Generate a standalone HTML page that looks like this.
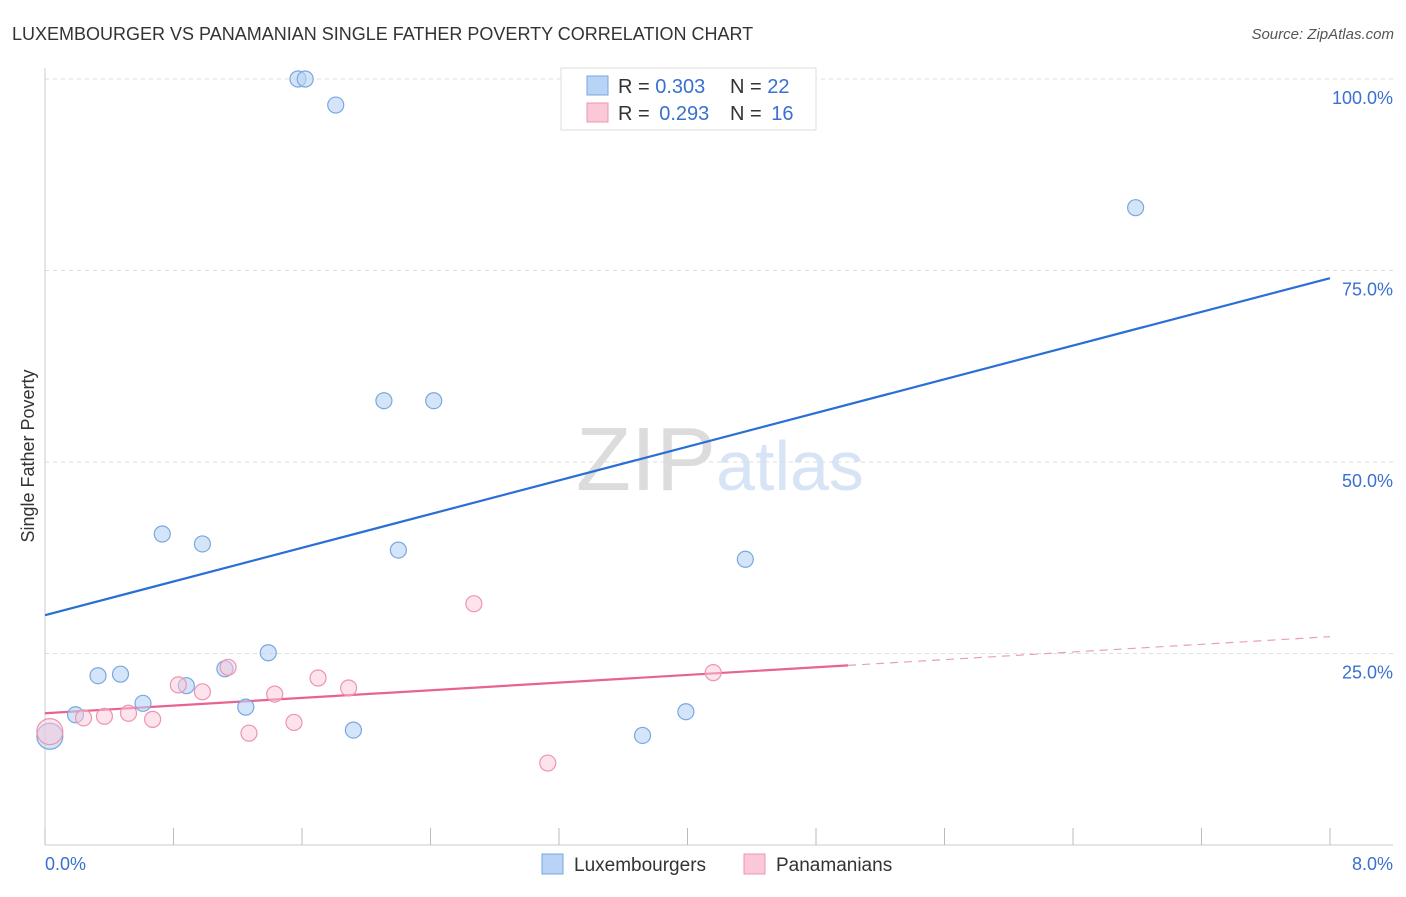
<!DOCTYPE html>
<html><head><meta charset="utf-8"><style>
body{margin:0;background:#fff;font-family:"Liberation Sans",sans-serif}
svg text{font-family:"Liberation Sans",sans-serif}
</style></head><body>
<svg id="c" width="1406" height="892" xmlns="http://www.w3.org/2000/svg">
<text x="12" y="40" font-size="18" fill="#333">LUXEMBOURGER VS PANAMANIAN SINGLE FATHER POVERTY CORRELATION CHART</text>
<text x="1394" y="39" font-size="15" fill="#555" font-style="italic" text-anchor="end">Source: ZipAtlas.com</text>
<text x="720" y="490" font-size="90" fill="#e4e4e4" text-anchor="middle" font-family="Liberation Serif"><tspan fill="#dcdcdc">ZIP</tspan><tspan fill="#d6e4f6" font-family="Liberation Sans" font-size="70">atlas</tspan></text>
<text transform="translate(34,456) rotate(-90)" font-size="18" fill="#333" text-anchor="middle">Single Father Poverty</text>
<g id="grid"></g><g id="lines"></g><g id="pts"></g>
<g>
<rect x="561" y="68" width="255" height="62" fill="#fff" stroke="#ddd"/>
<rect x="587" y="76" width="21" height="19" fill="#b8d3f5" stroke="#7aa7e0"/>
<rect x="587" y="103" width="21" height="19" fill="#fbc8d7" stroke="#ee94b0"/>
<text x="618" y="93" font-size="20" fill="#333">R = <tspan fill="#3a70d0">0.303</tspan></text>
<text x="730" y="93" font-size="20" fill="#333">N = <tspan fill="#3a70d0">22</tspan></text>
<text x="618" y="120" font-size="20" fill="#333">R = <tspan fill="#3a70d0" dx="4">0.293</tspan></text>
<text x="730" y="120" font-size="20" fill="#333">N = <tspan fill="#3a70d0" dx="4">16</tspan></text>
</g>
<g>
<rect x="542" y="854" width="21" height="20" fill="#b8d3f5" stroke="#7aa7e0"/>
<text x="574" y="871" font-size="19" fill="#333">Luxembourgers</text>
<rect x="744" y="854" width="21" height="20" fill="#fbc8d7" stroke="#ee94b0"/>
<text x="776" y="871" font-size="19" fill="#333">Panamanians</text>
</g>
</svg>
<script>
const xTicks=["0.0%","8.0%"];
const yTicks=[25,50,75,100];
const blueX=[1.575,1.62,1.81,6.79,2.11,2.42,0.73,0.98,2.20,4.36,1.39,0.33,0.47,1.12,0.88,0.61,1.25,0.19,3.99,1.92,3.72,0.03];
const blueY=[100,100,96.6,83.2,58.0,58.0,40.6,39.3,38.5,37.3,25.1,22.1,22.3,23.0,20.8,18.5,18.0,17.0,17.4,15.0,14.3,14.2];
const pinkX=[0.03,0.24,0.37,0.52,0.67,0.83,0.98,1.14,1.27,1.43,1.55,1.70,1.89,2.67,3.13,4.16];
const pinkY=[14.8,16.6,16.8,17.2,16.4,20.9,20.0,23.2,14.6,19.7,16.0,21.8,20.5,31.5,10.7,22.5];
const blueLine=[30.0,74.0];
const pinkLine=[17.2,27.2];
const pinkSolidEnd=5.0;
const X=v=>45+v/8*1285, Y=v=>845-v*7.66;
const NS="http://www.w3.org/2000/svg";
function mk(t,a,p){const e=document.createElementNS(NS,t);for(const k in a)e.setAttribute(k,a[k]);p.appendChild(e);return e;}
const g=document.getElementById('grid');
yTicks.forEach(t=>{
 const l=mk('line',{x1:45,x2:1393,y1:Y(t),y2:Y(t),stroke:'#ddd','stroke-dasharray':'4,4'},g);
 
 
 const tx=mk('text',{x:1393,y:Y(t)+25,'font-size':18,fill:'#3a70d0','text-anchor':'end'},g);
 tx.textContent=t.toFixed(1)+'%';
 
 
});
mk('line',{x1:45,x2:45,y1:68,y2:845,stroke:'#ccc'},g);
mk('line',{x1:45,x2:1393,y1:845,y2:845,stroke:'#ccc'},g);
for(let i=0;i<=10;i++){const t=mk('line',{x1:X(i*0.8),x2:X(i*0.8),y1:828,y2:845,stroke:'#bbb'},g);
 
 }
[[0,xTicks[0],'start',45],[8,xTicks[1],'end',1393]].forEach(d=>{const t=mk('text',{x:d[3],y:870,'font-size':18,fill:'#3a70d0','text-anchor':d[2]},g);t.textContent=d[1];
 
 });
const L=document.getElementById('lines');
const bl=mk('line',{x1:X(0),y1:Y(blueLine[0]),x2:X(8),y2:Y(blueLine[1]),stroke:'#2a6fd6','stroke-width':2.2},L);


const pe=pinkLine[0]+(pinkLine[1]-pinkLine[0])*pinkSolidEnd/8;
const pl=mk('line',{x1:X(0),y1:Y(pinkLine[0]),x2:X(pinkSolidEnd),y2:Y(pe),stroke:'#e8638f','stroke-width':2.2},L);


const pd=mk('line',{x1:X(pinkSolidEnd),y1:Y(pe),x2:X(8),y2:Y(pinkLine[1]),stroke:'#e8a0b8','stroke-width':1.2,'stroke-dasharray':'8,6'},L);


const P=document.getElementById('pts');
blueX.forEach((x,i)=>{const c=mk('circle',{cx:X(x),cy:Y(blueY[i]),r:i==21?13:8,fill:'rgba(184,211,245,0.6)',stroke:'#7aa7e0','stroke-width':1.2},P);
 
 });
pinkX.forEach((x,i)=>{const c=mk('circle',{cx:X(x),cy:Y(pinkY[i]),r:i==0?13:8,fill:'rgba(251,200,215,0.5)',stroke:'#ee94b0','stroke-width':1.2},P);
 
 });
</script>
</body></html>
